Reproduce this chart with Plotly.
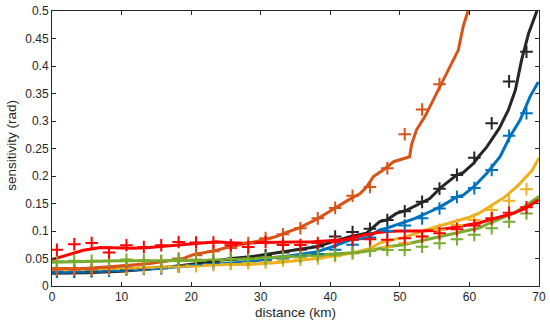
import plotly.graph_objects as go

# marker distances (km)
marker_x = [0.7, 3.2, 5.7, 8.2, 10.7, 13.2, 15.7, 18.2, 20.7, 23.2, 25.7, 28.2, 30.7, 33.2,
            35.7, 38.2, 40.7, 43.2, 45.7, 48.2, 50.7, 53.2, 55.7, 58.2, 60.7, 63.2, 65.7, 68.2]

# ---- black series ----
black_line_x = [0, 5, 10, 15, 21, 25.8, 28.5, 33.2, 38, 42.8, 45.2, 47.1, 48.1, 49.5, 51, 52.9, 54.3,
                55.8, 58.2, 59.1, 60.6, 61.3, 62.5, 64.3, 65.6, 66.6, 67.5, 68.5, 69.7]
black_line_y = [0.023, 0.024, 0.027, 0.032, 0.041, 0.050, 0.053, 0.062, 0.0715, 0.0897, 0.096, 0.117,
                0.12, 0.132, 0.138, 0.15, 0.159, 0.178, 0.202, 0.206, 0.223, 0.235, 0.253, 0.287, 0.32,
                0.356, 0.411, 0.459, 0.5]
black_mark_y = [0.026, 0.026, 0.027, 0.028, 0.030, 0.032, 0.034, 0.036, 0.040, 0.044, 0.048, 0.052,
                0.056, 0.061, 0.066, 0.072, 0.090, 0.098, 0.104, 0.12, 0.136, 0.153, 0.177, 0.202,
                0.233, 0.296, 0.372, 0.426]

# ---- blue series ----
blue_line_x = [0, 5, 11.5, 16, 21, 25, 28.5, 32, 33.2, 38, 40, 42.8, 45.2, 47.1, 48.1, 49.5, 52, 54.3,
               55.8, 58.2, 59.1, 60.6, 62.5, 64.4, 65.8, 67.3, 68.7, 69.9]
blue_line_y = [0.025, 0.026, 0.029, 0.033, 0.038, 0.042, 0.044, 0.052, 0.053, 0.062, 0.07, 0.0836,
               0.087, 0.102, 0.105, 0.111, 0.122, 0.135, 0.144, 0.162, 0.165, 0.18, 0.205, 0.235,
               0.271, 0.302, 0.344, 0.371]
blue_mark_y = [0.026, 0.026, 0.028, 0.028, 0.032, 0.032, 0.032, 0.035, 0.038, 0.040, 0.041, 0.044,
               0.047, 0.050, 0.054, 0.058, 0.066, 0.075, 0.088, 0.100, 0.110, 0.123, 0.141, 0.162,
               0.178, 0.211, 0.273, 0.314]

# ---- orange series ----
orange_line_x = [0, 4.5, 9.3, 14.1, 18.9, 20.3, 23.7, 25.1, 29.4, 32, 33.2, 35.6, 38, 40.2, 42.8, 44.3,
                 45.2, 46.2, 47.6, 49.1, 50.5, 51.4, 51.7, 52.4, 53.6, 54.8, 55.8, 56.7, 57.4, 58.4,
                 59.1, 59.8]
orange_line_y = [0.032, 0.032, 0.036, 0.041, 0.050, 0.057, 0.065, 0.070, 0.081, 0.089, 0.095, 0.106,
                 0.121, 0.138, 0.158, 0.168, 0.18, 0.199, 0.211, 0.226, 0.231, 0.235, 0.258, 0.284,
                 0.308, 0.338, 0.363, 0.387, 0.405, 0.429, 0.472, 0.5]
orange_mark_x = [0.7, 3.2, 5.7, 8.2, 10.7, 13.2, 15.7, 18.2, 20.7, 23.2, 25.7, 28.2, 30.7, 33.2,
                 35.7, 38.2, 40.7, 43.2, 45.7, 48.2, 50.7, 53.2, 55.7]
orange_mark_y = [0.030, 0.030, 0.031, 0.033, 0.037, 0.040, 0.045, 0.050, 0.056, 0.063, 0.069, 0.078,
                 0.087, 0.094, 0.105, 0.123, 0.142, 0.164, 0.180, 0.214, 0.276, 0.321, 0.367]

# ---- yellow series ----
yellow_line_x = [0, 5, 10, 15, 20, 25, 28.5, 33, 38, 42.8, 45.7, 47.1, 48.1, 50.5, 54.3, 57, 60, 61.5,
                 63, 65.1, 67, 67.7, 69, 70]
yellow_line_y = [0.029, 0.030, 0.032, 0.034, 0.037, 0.039, 0.039, 0.043, 0.050, 0.059, 0.068, 0.078,
                 0.082, 0.088, 0.104, 0.114, 0.125, 0.133, 0.145, 0.162, 0.183, 0.193, 0.21, 0.233]
yellow_mark_y = [0.030, 0.030, 0.030, 0.031, 0.032, 0.033, 0.034, 0.035, 0.036, 0.038, 0.040, 0.042,
                 0.043, 0.046, 0.048, 0.050, 0.054, 0.059, 0.066, 0.071, 0.078, 0.090, 0.102, 0.111,
                 0.120, 0.138, 0.155, 0.176]

# ---- green series ----
green_line_x = [0, 5, 10, 15, 20, 23.7, 28, 32, 36, 40, 44, 46, 48, 50.5, 54.3, 57, 60, 61.5, 63,
                66.3, 68, 70]
green_line_y = [0.043, 0.045, 0.046, 0.046, 0.046, 0.047, 0.049, 0.052, 0.055, 0.059, 0.061, 0.065,
                0.071, 0.075, 0.086, 0.094, 0.102, 0.106, 0.115, 0.132, 0.145, 0.163]
green_mark_y = [0.045, 0.046, 0.046, 0.046, 0.048, 0.047, 0.046, 0.048, 0.048, 0.048, 0.049, 0.050,
                0.051, 0.052, 0.053, 0.055, 0.057, 0.060, 0.064, 0.0655, 0.0655, 0.0715, 0.0776,
                0.085, 0.093, 0.105, 0.117, 0.132]

# ---- red series ----
red_line_x = [0, 2, 4.5, 7, 9, 11.7, 14, 16.5, 19, 21.3, 23.7, 25, 27.5, 30, 32.3, 35, 37.1, 40, 42,
              44, 45.7, 48, 50, 53, 55, 57.5, 60, 61.5, 63, 64.5, 66.3, 68, 70]
red_line_y = [0.048, 0.055, 0.065, 0.070, 0.069, 0.0685, 0.070, 0.0727, 0.076, 0.079, 0.0806, 0.079,
              0.0776, 0.079, 0.080, 0.080, 0.080, 0.082, 0.084, 0.090, 0.095, 0.099, 0.100, 0.100,
              0.101, 0.106, 0.111, 0.115, 0.121, 0.126, 0.132, 0.141, 0.157]
red_mark_y = [0.066, 0.076, 0.078, 0.061, 0.074, 0.071, 0.074, 0.080, 0.079, 0.079, 0.074, 0.071,
              0.080, 0.0745, 0.0745, 0.078, 0.080, 0.084, 0.085, 0.084, 0.087, 0.090, 0.096, 0.103,
              0.110, 0.123, 0.133, 0.143]

# axis ticks / titles
x_ticks = [0, 10, 20, 30, 40, 50, 60, 70]
y_ticks = [0, 0.05, 0.1, 0.15, 0.2, 0.25, 0.3, 0.35, 0.4, 0.45, 0.5]
y_tick_text = ["0", "0.05", "0.1", "0.15", "0.2", "0.25", "0.3", "0.35", "0.4", "0.45", "0.5"]
x_title = "distance (km)"
y_title = "sensitivity (rad)"

BLACK = "#262626"
BLUE = "#0072BD"
ORANGE = "#D95319"
YELLOW = "#EDB120"
GREEN = "#77AC30"
RED = "#FF0000"
FONT = "Liberation Sans, Arial, sans-serif"

fig = go.Figure()

series = [
    (black_line_x, black_line_y, marker_x, black_mark_y, BLACK),
    (blue_line_x, blue_line_y, marker_x, blue_mark_y, BLUE),
    (yellow_line_x, yellow_line_y, marker_x, yellow_mark_y, YELLOW),
    (orange_line_x, orange_line_y, orange_mark_x, orange_mark_y, ORANGE),
    (green_line_x, green_line_y, marker_x, green_mark_y, GREEN),
    (red_line_x, red_line_y, marker_x, red_mark_y, RED),
]

for lx, ly, mx, my, col in series:
    fig.add_trace(go.Scatter(x=lx, y=ly, mode="lines",
                             line=dict(color=col, width=3), showlegend=False))
for lx, ly, mx, my, col in series:
    fig.add_trace(go.Scatter(x=mx, y=my, mode="markers",
                             marker=dict(symbol="cross-thin", size=9,
                                         line=dict(color=col, width=2)),
                             showlegend=False))

axis_common = dict(showgrid=False, zeroline=False, showline=True, linecolor=BLACK, linewidth=1,
                   mirror="ticks", ticks="inside", ticklen=4, tickcolor=BLACK, automargin=False,
                   tickfont=dict(family=FONT, size=12, color=BLACK))

fig.update_layout(
    template="none",
    width=550, height=325,
    margin=dict(l=52, r=11, t=11, b=39, pad=0),
    paper_bgcolor="white", plot_bgcolor="white",
    font=dict(family=FONT, size=12, color=BLACK),
    xaxis=dict(range=[0, 70], tickvals=x_ticks, **axis_common),
    yaxis=dict(range=[0, 0.5], tickvals=y_ticks, ticktext=y_tick_text, **axis_common),
    annotations=[
        dict(text=x_title, xref="paper", yref="paper", x=0.5, y=-0.0964,
             xanchor="center", yanchor="middle", showarrow=False,
             font=dict(family=FONT, size=13.5, color=BLACK)),
        dict(text=y_title, xref="paper", yref="paper", x=-0.0835, y=0.511,
             xanchor="center", yanchor="middle", showarrow=False, textangle=-90,
             font=dict(family=FONT, size=13.5, color=BLACK)),
    ],
)

fig.write_html("out.html", config={"displayModeBar": False},
               post_script="document.body.style.margin='0';")
